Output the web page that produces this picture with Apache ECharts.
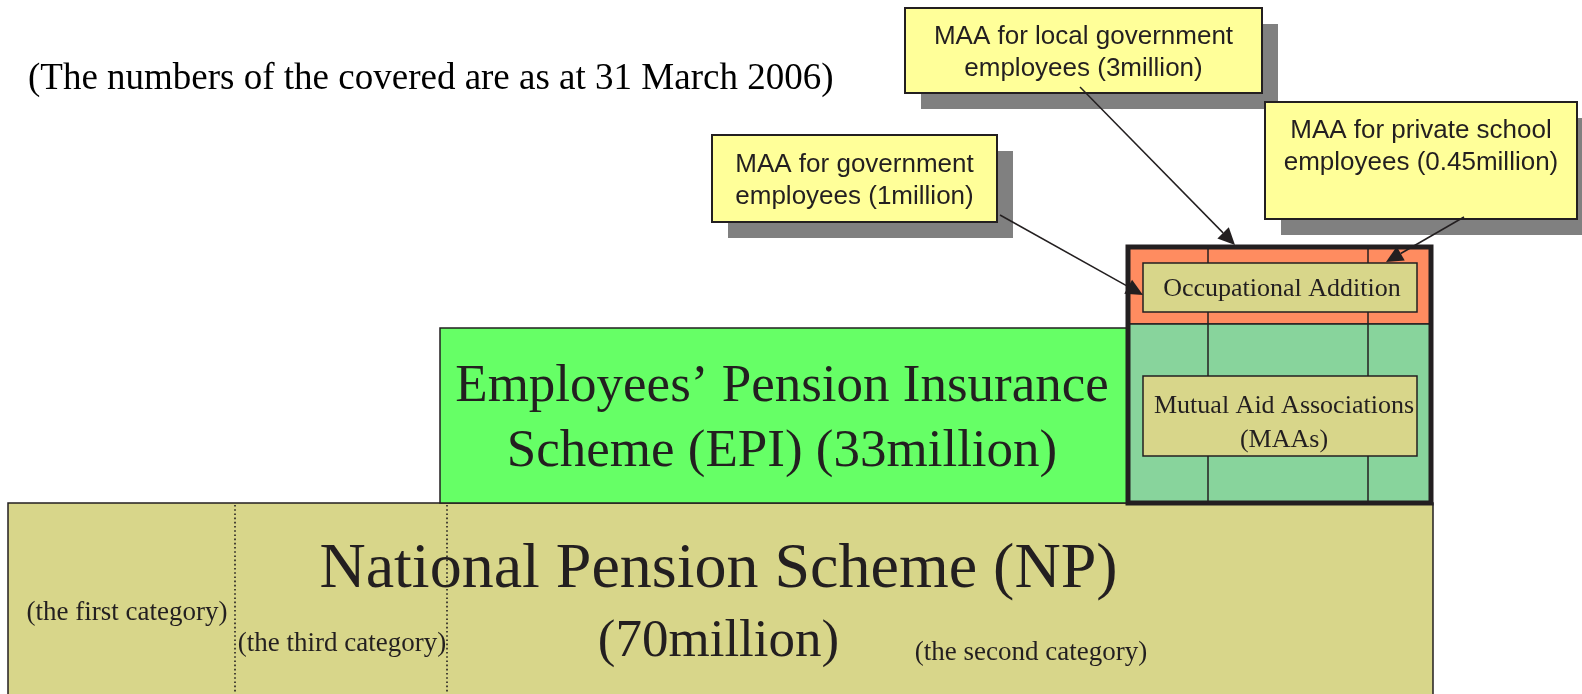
<!DOCTYPE html>
<html>
<head>
<meta charset="utf-8">
<title>Public pension schemes in Japan</title>
<script src="https://cdn.jsdelivr.net/npm/echarts@6/dist/echarts.min.js"></script>
<style>
  html, body { margin: 0; padding: 0; background: #fff; }
  #chart { width: 1582px; height: 694px; }
</style>
</head>
<body>
<div id="chart"></div>
<script>
// hidden value axes span the whole page, 1 unit = 1 px, y grows downwards

// numbers covered (million)
const schemeMillion = [70, 33];          // NP, EPI
const maaGroups = ['government', 'local government', 'private school'];
const maaMillion = [1, 3, 0.45];

// scheme blocks: NP, EPI, MAA top (orange), MAA base (green)
const blockX0 = [8, 440, 1128, 1128];
const blockX1 = [1433, 1128, 1431, 1431];
const blockY0 = [503, 328, 247, 324];
const blockY1 = [700, 503, 324, 503];

// inner boxes: Occupational Addition, Mutual Aid Associations
const innerX0 = [1143, 1143];
const innerX1 = [1417, 1417];
const innerY0 = [263, 376];
const innerY1 = [312, 456];

// MAA columns and NP category dividers
const maaDividers = [1208, 1368];
const categoryDividers = [235, 447];
const categoryNames = ['(the first category)', '(the third category)', '(the second category)'];
const categoryX = [127, 342, 1031];
const categoryY = [613, 644, 653];

// callout boxes and their arrows
const calloutX0 = [712, 905, 1265];
const calloutX1 = [997, 1262, 1577];
const calloutY0 = [135, 8, 102];
const calloutY1 = [222, 93, 219];
const calloutTextY = [181, 53, 147];
const arrowFrom = [[1000, 215], [1080, 87], [1464, 217]];
const arrowTo = [[1143, 295], [1235, 245], [1386, 262]];

const ink = '#231f20';
const serif = '"Liberation Serif", "Times New Roman", serif';
const sans = '"Liberation Sans", Arial, sans-serif';
const blockFill = ['#d8d68a', '#66ff66', '#ff8c60', '#88d49c'];
const SHADOW = 16;

const chart = echarts.init(document.getElementById('chart'));

// rect from data corners through the axes
const rectOf = (api, x0, y0, x1, y1) => {
  const a = api.coord([x0, y0]);
  const b = api.coord([x1, y1]);
  return { x: a[0], y: a[1], width: b[0] - a[0], height: b[1] - a[1] };
};

const text = (api, x, y, str, size, family, lh) => {
  const p = api.coord([x, y]);
  return {
    type: 'text',
    style: {
      x: p[0], y: p[1], text: str,
      font: size + 'px ' + family,
      fill: ink, align: 'center', verticalAlign: 'middle',
      lineHeight: lh || size
    }
  };
};

// big labels inside the blocks
const labelText = [
  'National Pension Scheme (NP)',
  '(' + schemeMillion[0] + 'million)',
  'Employees\u2019 Pension Insurance',
  'Scheme (EPI) (' + schemeMillion[1] + 'million)'
];
const labelY = [570, 642, 387, 452];
const labelSize = [64, 53, 53, 53];

const option = {
  animation: false,
  title: {
    text: '(The numbers of the covered are as at 31 March 2006)',
    left: 28, top: 61, padding: 0,
    textStyle: { fontFamily: serif, fontSize: 37, fontWeight: 'normal', color: '#000' }
  },
  grid: { left: 0, right: 0, top: 0, bottom: 0 },
  xAxis: { type: 'value', min: 0, max: 1582, show: false },
  yAxis: { type: 'value', min: 0, max: 694, inverse: true, show: false },
  series: [
    {
      // scheme blocks
      type: 'custom', z: 1,
      data: blockX0.map((x, i) => [x, blockY0[i], blockX1[i], blockY1[i]]),
      renderItem: (params, api) => ({
        type: 'rect',
        shape: rectOf(api, api.value(0), api.value(1), api.value(2), api.value(3)),
        style: { fill: blockFill[params.dataIndex], stroke: ink, lineWidth: 1.5 }
      })
    },
    {
      // MAA column lines
      type: 'custom', z: 2,
      data: maaDividers.map(x => [x]),
      renderItem: (params, api) => {
        const a = api.coord([api.value(0), blockY0[2]]);
        const b = api.coord([api.value(0), blockY1[3]]);
        return { type: 'line', shape: { x1: a[0], y1: a[1], x2: b[0], y2: b[1] }, style: { stroke: ink, lineWidth: 1.5 } };
      }
    },
    {
      // NP category dotted lines
      type: 'custom', z: 2,
      data: categoryDividers.map(x => [x]),
      renderItem: (params, api) => {
        const a = api.coord([api.value(0), blockY0[0] + 2]);
        const b = api.coord([api.value(0), 694]);
        return { type: 'line', shape: { x1: a[0], y1: a[1], x2: b[0], y2: b[1] }, style: { stroke: ink, lineWidth: 1.6, lineDash: [1.6, 2.6] } };
      }
    },
    {
      // thick frame round the MAAs
      type: 'custom', z: 3,
      data: [[blockX0[2], blockY0[2], blockX1[3], blockY1[3]]],
      renderItem: (params, api) => ({
        type: 'rect',
        shape: rectOf(api, api.value(0), api.value(1), api.value(2), api.value(3)),
        style: { fill: 'none', stroke: ink, lineWidth: 5 }
      })
    },
    {
      // Occupational Addition / MAAs boxes
      type: 'custom', z: 4,
      data: innerX0.map((x, i) => [x, innerY0[i], innerX1[i], innerY1[i]]),
      renderItem: (params, api) => {
        const x0 = api.value(0), y0 = api.value(1), x1 = api.value(2), y1 = api.value(3);
        const cx = (x0 + x1) / 2 + 2, cy = (y0 + y1) / 2;
        const label = params.dataIndex === 0
          ? text(api, cx, cy + 2, 'Occupational Addition', 26, serif)
          : text(api, cx + 2, cy + 7, 'Mutual Aid Associations\n(MAAs)', 26, serif, 34);
        return {
          type: 'group',
          children: [
            { type: 'rect', shape: rectOf(api, x0, y0, x1, y1), style: { fill: blockFill[0], stroke: ink, lineWidth: 1.5 } },
            label
          ]
        };
      }
    },
    {
      // scheme labels
      type: 'custom', z: 5,
      data: labelText.map((t, i) => [i]),
      renderItem: (params, api) => {
        const i = params.dataIndex;
        const b = i < 2 ? 0 : 1;
        const cx = (blockX0[b] + blockX1[b]) / 2 - 2;
        return text(api, cx, labelY[i], labelText[i], labelSize[i], serif);
      }
    },
    {
      // NP categories
      type: 'custom', z: 5,
      data: categoryNames.map((n, i) => [categoryX[i], categoryY[i]]),
      renderItem: (params, api) =>
        text(api, api.value(0), api.value(1), categoryNames[params.dataIndex], 27, serif)
    },
    {
      // callouts
      type: 'custom', z: 6,
      data: calloutX0.map((x, i) => [x, calloutY0[i], calloutX1[i], calloutY1[i], calloutTextY[i]]),
      renderItem: (params, api) => {
        const i = params.dataIndex;
        const x0 = api.value(0), y0 = api.value(1), x1 = api.value(2), y1 = api.value(3);
        const str = 'MAA for ' + maaGroups[i] + '\nemployees (' + maaMillion[i] + 'million)';
        return {
          type: 'group',
          children: [
            { type: 'rect', shape: rectOf(api, x0 + SHADOW, y0 + SHADOW, x1 + SHADOW, y1 + SHADOW), style: { fill: '#808080' } },
            { type: 'rect', shape: rectOf(api, x0, y0, x1, y1), style: { fill: '#ffff99', stroke: ink, lineWidth: 2 } },
            text(api, (x0 + x1) / 2, api.value(4), str, 26, sans, 32)
          ]
        };
      }
    },
    {
      // arrows
      type: 'custom', z: 7,
      data: arrowFrom.map((f, i) => [f[0], f[1], arrowTo[i][0], arrowTo[i][1]]),
      renderItem: (params, api) => {
        const a = api.coord([api.value(0), api.value(1)]);
        const b = api.coord([api.value(2), api.value(3)]);
        const dx = b[0] - a[0], dy = b[1] - a[1];
        const len = Math.sqrt(dx * dx + dy * dy);
        const ux = dx / len, uy = dy / len;
        const L = 17, W = 8;
        const bx = b[0] - ux * L, by = b[1] - uy * L;
        return {
          type: 'group',
          children: [
            { type: 'line', shape: { x1: a[0], y1: a[1], x2: bx, y2: by }, style: { stroke: ink, lineWidth: 1.5 } },
            {
              type: 'polygon',
              shape: { points: [[b[0], b[1]], [bx - uy * W, by + ux * W], [bx + uy * W, by - ux * W]] },
              style: { fill: ink }
            }
          ]
        };
      }
    }
  ]
};

chart.setOption(option);
window.addEventListener('resize', () => chart.resize());
</script>
</body>
</html>
